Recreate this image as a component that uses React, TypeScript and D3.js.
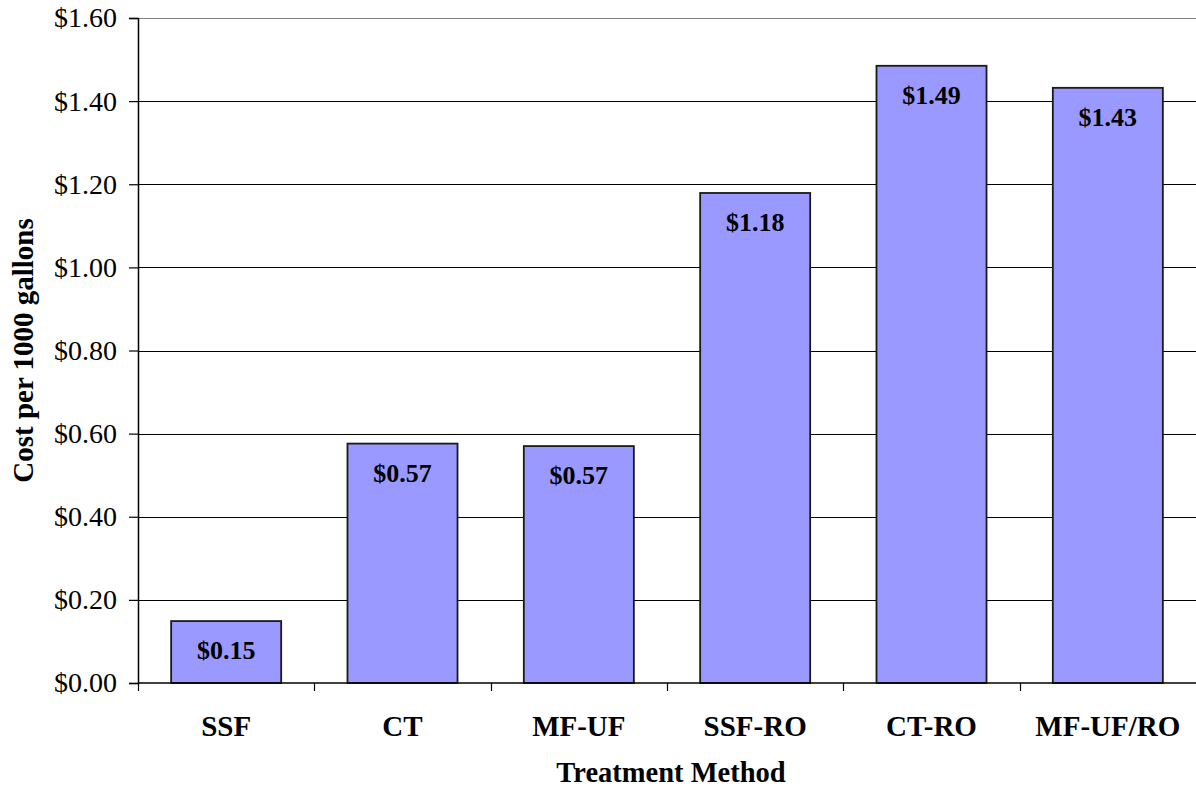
import { useEffect, useRef } from 'react';
import * as d3 from 'd3';

const categories = ['SSF', 'CT', 'MF-UF', 'SSF-RO', 'CT-RO', 'MF-UF/RO'];
const costs = [0.149, 0.576, 0.57, 1.179, 1.485, 1.432];
const costLabels = ['$0.15', '$0.57', '$0.57', '$1.18', '$1.49', '$1.43'];
const yTicks = [0, 0.2, 0.4, 0.6, 0.8, 1.0, 1.2, 1.4, 1.6];

export default function App() {
  const svgRef = useRef<SVGSVGElement>(null);

  useEffect(() => {
    if (!svgRef.current) return;
    const svg = d3.select(svgRef.current);
    svg.selectAll('*').remove();

    const width = 1196;
    const height = 790;
    const margin = { top: 18, right: 0, bottom: 107, left: 138 };
    const font = '"Liberation Serif", "Times New Roman", serif';

    const x = d3.scaleBand()
      .domain(categories)
      .range([margin.left, width - margin.right])
      .padding(0);

    const y = d3.scaleLinear()
      .domain([0, 1.6])
      .range([height - margin.bottom, margin.top]);

    const barW = x.bandwidth() * 0.624;

    // Gridlines
    svg.append('g')
      .selectAll('line')
      .data(yTicks.filter(d => d > 0))
      .enter()
      .append('line')
      .attr('x1', margin.left)
      .attr('x2', width)
      .attr('y1', d => Math.round(y(d)) + 0.5)
      .attr('y2', d => Math.round(y(d)) + 0.5)
      .attr('stroke', d => (d === 1.6 ? '#808080' : '#000'))
      .attr('stroke-width', 1.2);

    // Bars
    const bars = svg.append('g')
      .selectAll('g')
      .data(categories)
      .enter()
      .append('g');

    bars.append('rect')
      .attr('x', d => x(d)! + (x.bandwidth() - barW) / 2)
      .attr('y', (_, i) => y(costs[i]))
      .attr('width', barW)
      .attr('height', (_, i) => y(0) - y(costs[i]))
      .attr('fill', '#9999FF')
      .attr('stroke', '#1a1a1a')
      .attr('stroke-width', 1.8);

    bars.append('text')
      .attr('x', d => x(d)! + x.bandwidth() / 2)
      .attr('y', (_, i) => y(costs[i]) + 38)
      .attr('text-anchor', 'middle')
      .attr('font-family', font)
      .attr('font-weight', 'bold')
      .attr('font-size', 26)
      .attr('fill', '#000')
      .text((_, i) => costLabels[i]);

    // Y axis
    const yAxis = svg.append('g')
      .attr('transform', `translate(${margin.left},0)`)
      .call(
        d3.axisLeft(y)
          .tickValues(yTicks)
          .tickSize(9)
          .tickPadding(12)
          .tickFormat(d => `$${(+d).toFixed(2)}`)
      );
    yAxis.select('.domain').attr('stroke', '#000').attr('stroke-width', 1.5);
    yAxis.selectAll('.tick line').attr('stroke', '#000').attr('stroke-width', 1.2);
    yAxis.selectAll('.tick text')
      .attr('font-family', font)
      .attr('font-size', 28)
      .attr('fill', '#000');

    // X axis baseline and boundary ticks
    const x0 = y(0);
    svg.append('line')
      .attr('x1', margin.left)
      .attr('x2', width)
      .attr('y1', x0)
      .attr('y2', x0)
      .attr('stroke', '#000')
      .attr('stroke-width', 1.5);

    svg.append('g')
      .selectAll('line')
      .data(categories)
      .enter()
      .append('line')
      .attr('x1', d => Math.round(x(d)!) + 0.5)
      .attr('x2', d => Math.round(x(d)!) + 0.5)
      .attr('y1', x0)
      .attr('y2', x0 + 8)
      .attr('stroke', '#000')
      .attr('stroke-width', 1.2);

    svg.append('g')
      .selectAll('text')
      .data(categories)
      .enter()
      .append('text')
      .attr('x', d => x(d)! + x.bandwidth() / 2)
      .attr('y', x0 + 53)
      .attr('text-anchor', 'middle')
      .attr('font-family', font)
      .attr('font-weight', 'bold')
      .attr('font-size', 29)
      .attr('fill', '#000')
      .text(d => d);

    // Axis titles
    svg.append('text')
      .attr('x', 671)
      .attr('y', 782)
      .attr('text-anchor', 'middle')
      .attr('font-family', font)
      .attr('font-weight', 'bold')
      .attr('font-size', 28.5)
      .attr('fill', '#000')
      .text('Treatment Method');

    svg.append('text')
      .attr('transform', `translate(33,${(margin.top + x0) / 2}) rotate(-90)`)
      .attr('text-anchor', 'middle')
      .attr('font-family', font)
      .attr('font-weight', 'bold')
      .attr('font-size', 29)
      .attr('fill', '#000')
      .text('Cost per 1000 gallons');
  }, []);

  return (
    <div style={{ position: 'absolute', left: 0, top: 0, width: 1196, height: 790, background: '#fff' }}>
      <svg ref={svgRef} width={1196} height={790} style={{ display: 'block' }} />
    </div>
  );
}
